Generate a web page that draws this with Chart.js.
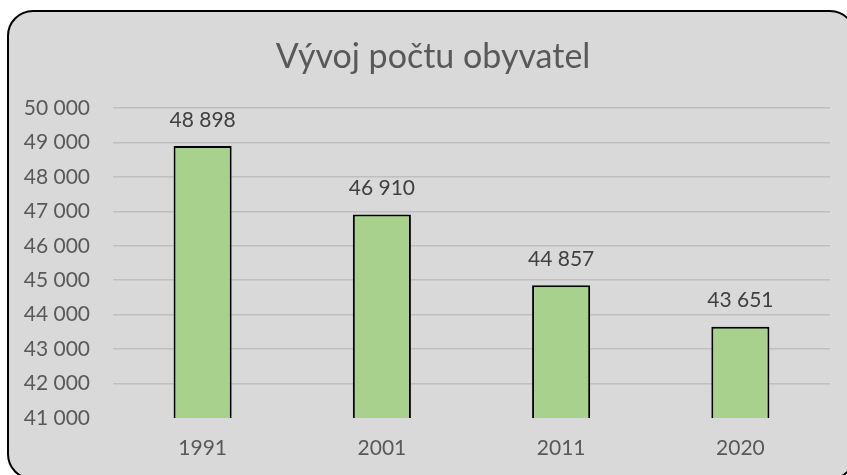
<!DOCTYPE html>
<html>
<head>
<meta charset="utf-8">
<script src="https://cdn.jsdelivr.net/npm/chart.js@4"></script>
<style>
    html, body { margin: 0; padding: 0; background: #fff; overflow: hidden; }
    #box {
        position: absolute;
        left: 7px; top: 10px;
        width: 845px; height: 466px;
        border: 2px solid #000;
        border-radius: 26px;
        background: #d9d9d9;
        overflow: hidden;
    }
</style>
</head>
<body>
<div id="box"><canvas id="chart" width="838" height="454"></canvas></div>
<script>
"use strict";

var years = ["1991", "2001", "2011", "2020"];
var population = [48898, 46910, 44857, 43651];
var yMin = 41000;
var yMax = 50000;
var yStep = 1000;
var chartTitle = "Vývoj počtu obyvatel";

var fontFamily = "Lato, 'Open Sans', sans-serif";
var textGrey = "#595959";

function formatNumber(v) {
    return String(v).replace(/\B(?=(\d{3})+(?!\d))/g, " ");
}

// title is drawn by hand, it sits a bit left of the plot centre
var chartHeading = {
    id: "chartHeading",
    afterDraw: function(chart) {
        var ctx = chart.ctx;
        ctx.save();
        ctx.font = "34px " + fontFamily;
        ctx.fillStyle = textGrey;
        ctx.textAlign = "center";
        ctx.textBaseline = "middle";
        ctx.fillText(chartTitle, 424, 45);
        ctx.restore();
    }
};

// draws the value above each bar
var valueLabels = {
    id: "valueLabels",
    afterDatasetsDraw: function(chart) {
        var ctx = chart.ctx;
        var meta = chart.getDatasetMeta(0);
        ctx.save();
        ctx.font = "21px " + fontFamily;
        ctx.fillStyle = "#404040";
        ctx.textAlign = "center";
        ctx.textBaseline = "middle";
        meta.data.forEach(function(bar, i) {
            ctx.fillText(formatNumber(chart.data.datasets[0].data[i]), bar.x, bar.y - 26);
        });
        ctx.restore();
    }
};

new Chart(document.getElementById("chart"), {
    type: "bar",
    data: {
        labels: years,
        datasets: [
            {
                data: population,
                backgroundColor: "#a9d18e",
                borderColor: "#000",
                borderWidth: 2,
                borderSkipped: "bottom",
                categoryPercentage: 1,
                barPercentage: 0.324
            }
        ]
    },
    plugins: [valueLabels, chartHeading],
    options: {
        responsive: false,
        animation: false,
        layout: {
            padding: { left: 0, right: 17, top: 96, bottom: 0 }
        },
        plugins: {
            legend: { display: false },
            tooltip: { enabled: false },
            title: { display: false }
        },
        scales: {
            x: {
                grid: { display: false, drawTicks: false },
                border: { display: false },
                ticks: {
                    color: textGrey,
                    font: { family: fontFamily, size: 21 },
                    padding: 18
                },
                afterFit: function(scale) {
                    scale.height = 48;
                }
            },
            y: {
                min: yMin,
                max: yMax,
                grid: {
                    drawTicks: false,
                    lineWidth: 1.5,
                    color: function(c) {
                        return c.tick && c.tick.value === yMin ? "rgba(0,0,0,0)" : "#bfbfbf";
                    }
                },
                border: { display: false },
                ticks: {
                    stepSize: yStep,
                    color: textGrey,
                    font: { family: fontFamily, size: 21 },
                    padding: 23,
                    callback: function(v) {
                        return formatNumber(v);
                    }
                },
                afterFit: function(scale) {
                    scale.width = 104;
                }
            }
        }
    }
});
</script>
</body>
</html>
